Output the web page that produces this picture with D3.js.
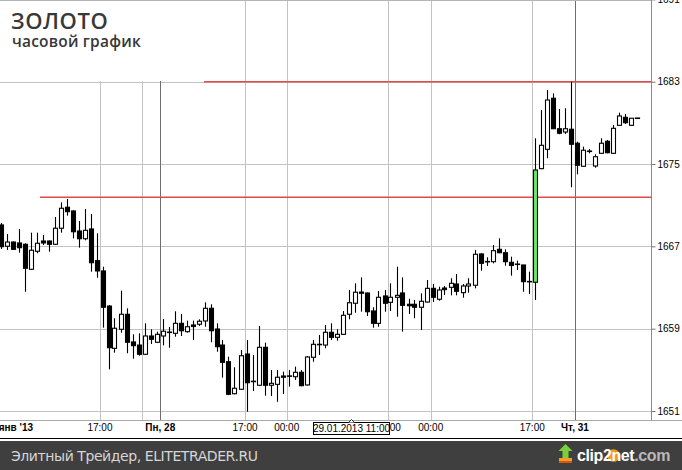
<!DOCTYPE html>
<html><head><meta charset="utf-8">
<script src="https://cdn.jsdelivr.net/npm/d3@7"></script>
<style>html,body{margin:0;padding:0;background:#fff;overflow:hidden}</style>
</head><body>
<svg id="c" width="682" height="470"></svg>
<script>
// ---------- DATA ----------
const opens = [1669.08,1667.01,1667.42,1667.33,1667.20,1664.77,1666.52,1667.52,1667.52,1667.20,
1668.76,1670.80,1670.44,1668.49,1667.74,1668.69,1665.61,1664.61,1661.20,1657.09,
1658.94,1660.40,1657.71,1657.41,1656.51,1658.29,1657.68,1658.29,1658.68,1658.55,
1659.52,1658.71,1659.36,1659.43,1659.75,1660.98,1658.97,1657.41,1655.79,1652.68,
1653.11,1656.54,1653.92,1653.50,1657.19,1653.50,1653.59,1654.40,1654.40,1654.33,
1654.76,1653.53,1656.22,1657.51,1657.41,1658.65,1658.16,1658.45,1660.40,1661.47,
1662.56,1662.47,1660.72,1659.52,1662.18,1661.56,1662.05,1662.47,1661.37,1661.37,
1661.08,1661.59,1662.92,1661.86,1662.95,1663.02,1663.34,1662.50,1663.15,1663.22,
1666.26,1665.53,1665.51,1666.71,1666.38,1665.45,1665.28,1665.19,1663.59,1663.51,
1674.55,1676.43,1681.39,1678.43,1678.11,1678.38,1677.02,1674.78,1676.29,1674.81,
1676.04,1677.21,1676.04,1678.76,1679.54,1678.76,1679.45];
const highs = [1669.27,1668.20,1667.47,1668.69,1667.30,1668.33,1668.33,1668.10,1667.57,1669.85,
1671.28,1671.60,1670.49,1669.46,1670.63,1670.14,1668.27,1665.02,1661.30,1660.01,
1662.69,1660.98,1658.45,1658.55,1659.52,1658.94,1658.71,1659.94,1659.16,1660.69,
1660.43,1659.78,1659.78,1659.91,1661.56,1661.37,1659.52,1657.90,1656.28,1655.25,
1656.93,1657.90,1656.44,1659.26,1657.64,1654.98,1654.98,1654.82,1654.98,1655.31,
1654.98,1656.34,1657.90,1658.39,1659.36,1659.52,1658.94,1660.72,1662.76,1663.41,
1663.99,1662.50,1661.08,1662.66,1662.76,1663.41,1665.02,1663.99,1661.91,1661.79,
1662.44,1663.73,1663.34,1663.08,1663.15,1663.90,1664.31,1663.34,1663.90,1666.65,
1666.33,1665.94,1667.13,1667.78,1666.71,1666.00,1665.61,1665.20,1664.54,1677.50,
1680.25,1682.20,1681.87,1680.35,1680.42,1683.00,1677.17,1676.69,1676.46,1675.95,
1677.50,1677.34,1678.79,1679.99,1679.86,1679.47,1679.45];
const lows = [1666.74,1666.65,1666.65,1666.38,1662.59,1664.70,1666.33,1667.13,1666.48,1667.15,
1668.33,1669.98,1667.78,1666.87,1667.59,1664.54,1663.95,1659.10,1655.05,1656.67,
1658.61,1656.61,1656.08,1656.37,1656.45,1657.51,1657.60,1657.38,1657.15,1658.22,
1658.29,1658.61,1657.90,1659.26,1659.19,1657.68,1656.76,1654.24,1652.55,1652.62,
1653.05,1650.93,1652.94,1653.45,1652.49,1652.46,1651.90,1652.65,1653.36,1654.01,
1653.40,1653.48,1655.79,1656.44,1657.09,1657.90,1657.83,1658.40,1659.91,1660.55,
1660.65,1660.23,1659.10,1659.19,1660.65,1660.72,1660.16,1658.71,1660.43,1660.01,
1658.87,1661.55,1661.59,1661.72,1662.27,1662.24,1662.24,1662.01,1662.50,1662.92,
1664.63,1665.09,1665.35,1666.33,1665.12,1664.15,1664.70,1662.59,1662.37,1661.79,
1674.50,1675.56,1678.40,1677.89,1677.92,1672.74,1674.00,1674.75,1676.04,1674.64,
1676.00,1676.04,1676.00,1678.73,1678.89,1678.73,1679.45];
const closes = [1666.97,1667.42,1666.71,1666.87,1664.87,1666.62,1667.30,1667.33,1667.20,1668.76,
1670.70,1670.37,1668.42,1667.74,1668.56,1665.41,1664.61,1661.08,1657.15,1659.04,
1660.40,1657.68,1657.35,1656.51,1658.29,1657.97,1658.45,1658.75,1658.62,1659.52,
1658.80,1659.19,1659.21,1659.72,1660.98,1658.80,1657.25,1655.73,1652.62,1653.21,
1656.37,1653.75,1653.82,1657.19,1653.50,1653.69,1654.28,1654.28,1654.38,1654.76,
1653.46,1656.25,1657.48,1657.41,1658.65,1658.16,1658.45,1660.30,1661.52,1662.54,
1662.44,1660.65,1659.52,1662.05,1661.47,1662.05,1662.24,1661.27,1661.23,1661.08,
1661.66,1662.92,1662.05,1662.76,1662.79,1663.41,1662.63,1663.15,1663.34,1666.23,
1665.35,1665.49,1666.58,1666.38,1665.51,1665.14,1665.24,1663.57,1663.55,1674.42,
1676.82,1681.22,1678.43,1677.99,1678.43,1676.92,1674.88,1676.34,1676.19,1675.71,
1677.02,1676.10,1678.47,1679.67,1679.02,1679.45,1679.45];
const highlightIdx = [89];                       // highlighted (green) candle
const yTickValues = [1651,1659,1667,1675,1683,1691];
const xTickIdx    = [16.58,23.63,26.63,40.75,47.7,64.63,71.7,88.63,95.75];
const xTickLabels = ['17:00','','Пн, 28','17:00','00:00','17:00','00:00','17:00','Чт, 31'];
const firstDayLabel = "янв '13";
const firstDayIdx = 5.42;
const levelPrices = [1683.0, 1671.77];
const levelStartIdx = [33.92, 6.58];
const crosshairIdx = 58.5;
const crosshairLabel = '29.01.2013 11:00';
const titleText = 'ЗОЛОТО';
const subtitleText = 'часовой график';
const footerText = 'Элитный Трейдер, ELITETRADER.RU';

// ---------- LAYOUT ----------
const svg = d3.select('#c');
const plotR = 652, plotB = 420;
const x = d3.scaleLinear().domain([0, 106]).range([0.5, 636.5]);
const y = d3.scaleLinear().domain([1651, 1683]).range([411, 81.7]);
const data = opens.map((o,i)=>({i, o, h:highs[i], l:lows[i], c:closes[i]}));

svg.append('rect').attr('width',682).attr('height',470).attr('fill','#fff');
svg.append('defs').append('clipPath').attr('id','plot')
  .append('rect').attr('x',0).attr('y',0).attr('width',plotR).attr('height',plotB);

const g = svg.append('g').attr('clip-path','url(#plot)');
// horizontal grid
g.selectAll('.hg').data(yTickValues).join('line')
  .attr('x1',0).attr('x2',plotR)
  .attr('y1',d=>Math.round(y(d))+0.5).attr('y2',d=>Math.round(y(d))+0.5)
  .attr('stroke','#c3c3c3').attr('stroke-width',1);
// vertical grid
g.selectAll('.vg').data(xTickIdx.map((v,k)=>({v, lab:xTickLabels[k]}))).join('line')
  .attr('x1',d=>Math.round(x(d.v))+0.5).attr('x2',d=>Math.round(x(d.v))+0.5)
  .attr('y1',0).attr('y2',plotB)
  .attr('stroke',d=>d.lab.includes(',')?'#6e6e6e':'#c3c3c3').attr('stroke-width',1);
// title box
g.append('rect').attr('x',0).attr('y',0).attr('width',204).attr('height',81).attr('fill','#fff');
// top border
svg.append('line').attr('x1',0).attr('x2',plotR).attr('y1',0.5).attr('y2',0.5).attr('stroke','#b5b5b5');
// level lines
g.selectAll('.lvl').data(levelPrices.map((p,k)=>({p, s:levelStartIdx[k]}))).join('line')
  .attr('x1',d=>x(d.s)).attr('x2',plotR)
  .attr('y1',d=>y(d.p)).attr('y2',d=>y(d.p))
  .attr('stroke','#e04a4a').attr('stroke-width',1.5);

// candles
const cg = g.append('g');
const bw = 4;
const cs = cg.selectAll('g.c').data(data).join('g');
cs.append('line')
  .attr('x1',d=>Math.round(x(d.i))+0.5).attr('x2',d=>Math.round(x(d.i))+0.5)
  .attr('y1',d=>y(d.h)).attr('y2',d=>y(d.l))
  .attr('stroke','#000').attr('stroke-width',1.1);
cs.each(function(d){
  const sel = d3.select(this);
  const cx = Math.round(x(d.i))+0.5;
  const top = y(Math.max(d.o,d.c)), bot = y(Math.min(d.o,d.c));
  if (bot - top < 1.2) {
    sel.append('line').attr('x1',cx-2.6).attr('x2',cx+2.6)
      .attr('y1',(top+bot)/2).attr('y2',(top+bot)/2)
      .attr('stroke','#000').attr('stroke-width',1.6);
    return;
  }
  const up = d.c >= d.o;
  const fill = highlightIdx.includes(d.i) ? '#66ee66' : (up ? '#fff' : '#000');
  sel.append('rect').attr('x',cx-bw/2).attr('width',bw)
    .attr('y',top).attr('height',bot-top)
    .attr('fill',fill).attr('stroke','#000').attr('stroke-width',1.1);
});

// title texts
svg.append('text').attr('x',11).attr('y',28.5).text(titleText)
  .attr('font-family','Open Sans').attr('font-weight',600).attr('font-size',22)
  .attr('letter-spacing',0.6).attr('fill','#383838');
svg.append('text').attr('x',12).attr('y',46.7).text(subtitleText)
  .attr('font-family','Open Sans').attr('font-weight',600).attr('font-size',15.5)
  .attr('letter-spacing',0.2).attr('fill','#383838');

// right axis
svg.append('line').attr('x1',651.5).attr('x2',651.5).attr('y1',0).attr('y2',plotB)
  .attr('stroke','#8a8a8a');
const ax = svg.append('g').attr('transform','translate(651.5,0)')
  .call(d3.axisRight(y).tickValues(yTickValues).tickSize(4).tickPadding(2).tickFormat(d3.format('d')));
ax.select('.domain').remove();
ax.selectAll('.tick line').attr('stroke','#777');
ax.selectAll('.tick text').attr('font-family','Liberation Sans, Arial, sans-serif')
  .attr('font-size',10).attr('fill','#000');

// bottom plot line
svg.append('line').attr('x1',0).attr('x2',682).attr('y1',420.5).attr('y2',420.5).attr('stroke','#a8a8a8');

// x labels
svg.selectAll('.xl').data(xTickIdx.map((v,k)=>({v, lab:xTickLabels[k]})).filter(d=>d.lab)).join('text')
  .attr('x',d=>x(d.v)).attr('y',431).attr('text-anchor','middle')
  .attr('font-family','Liberation Sans, Arial, sans-serif').attr('font-size',10)
  .attr('font-weight',d=>d.lab.includes(',')?'bold':'normal')
  .text(d=>d.lab);
svg.append('text').attr('x',x(firstDayIdx)).attr('y',431).attr('text-anchor','end')
  .attr('font-family','Liberation Sans, Arial, sans-serif').attr('font-size',10)
  .attr('font-weight','bold').text(firstDayLabel);

// crosshair time box
const chx = x(crosshairIdx);
svg.append('rect').attr('x',chx-38).attr('y',422.5).attr('width',76).attr('height',12)
  .attr('fill','#fff').attr('stroke','#000').attr('stroke-width',1);
svg.append('path').attr('d',`M${chx-3},422.5 L${chx},419.5 L${chx+3},422.5`)
  .attr('fill','#fff').attr('stroke','#000').attr('stroke-width',0.8);
svg.append('text').attr('x',chx).attr('y',432).attr('text-anchor','middle')
  .attr('font-family','Liberation Sans, Arial, sans-serif').attr('font-size',10)
  .text(crosshairLabel);

// black separator & footer
svg.append('line').attr('x1',0).attr('x2',682).attr('y1',438.5).attr('y2',438.5).attr('stroke','#000').attr('stroke-width',1.2);
svg.append('rect').attr('x',0).attr('y',441).attr('width',682).attr('height',29).attr('fill','#3f3f3f');
svg.append('text').attr('x',11).attr('y',460.5).text(footerText)
  .attr('font-family','DejaVu Sans').attr('font-size',14).attr('fill','#d6d6d6')
  .attr('textLength',247).attr('lengthAdjust','spacing');

// clip2net logo
const lg = svg.append('g');
lg.append('rect').attr('x',559).attr('y',458).attr('width',13).attr('height',5).attr('fill','#f0a020');
lg.append('rect').attr('x',559).attr('y',461).attr('width',13).attr('height',2).attr('fill','#e05010');
lg.append('path').attr('d','M565.5,444 L572.5,451 L568.5,451 L568.5,458 L562.5,458 L562.5,451 L558.5,451 Z').attr('fill','#7ccf3a');
lg.append('circle').attr('cx',613.5).attr('cy',455.5).attr('r',6.3).attr('fill','#f39a1e');
const lt = lg.append('text').attr('x',577).attr('y',461).attr('font-family','Liberation Sans, Arial, sans-serif')
  .attr('font-weight','bold').attr('font-size',16).attr('letter-spacing',-0.4);
lt.append('tspan').attr('fill','#fff').text('clip');
lt.append('tspan').attr('fill','#fff').text('2');
lt.append('tspan').attr('fill','#fff').text('net');
lt.append('tspan').attr('fill','#b9b9b9').text('.com');
</script>
</body></html>
